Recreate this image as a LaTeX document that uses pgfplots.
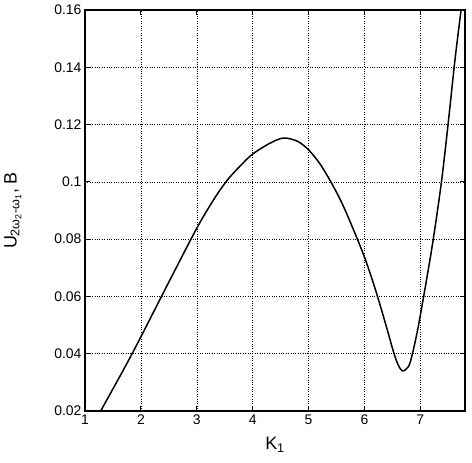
\documentclass[border=0pt]{standalone}
\usepackage{fontspec}
\setmainfont{Liberation Sans}
\usepackage{pgfplots}
\pgfplotsset{compat=1.18}

\begin{document}
\begin{tikzpicture}
  % fix the page to the reference's 472x463 frame around the axis box
  \path[use as bounding box] (-85bp,-52bp) rectangle (387bp,411bp);
  \begin{axis}[
    scale only axis,
    width=380bp, height=401bp,
    xmin=1, xmax=7.8,
    ymin=0.02, ymax=0.16,
    xtick={1,2,...,7},
    ytick={0.02,0.04,...,0.16},
    scaled y ticks=false,
    yticklabel style={/pgf/number format/fixed, /pgf/number format/precision=2},
    /pgf/number format/assume math mode=true,
    tick label style={font=\fontsize{14}{16}\selectfont},
    tick align=inside,
    major tick length=5bp,
    tick style={black, line width=0.9bp},
    axis line style={line width=1.4bp},
    grid=major,
    major grid style={dotted, black, line width=0.5bp},
    xlabel={K\textsubscript{1}},
    ylabel={U\textsubscript{2ω\textsubscript{2}-ω\textsubscript{1}}, B},
    label style={font=\fontsize{18}{20}\selectfont},
    xlabel style={at={(axis description cs:0.5,-0.085)}, anchor=center},
    ylabel style={at={(axis description cs:-0.19,0.5)}, anchor=center},
  ]
    \addplot[black, line width=1.5bp, smooth, tension=0.5] coordinates {
      (1.28,0.0200)
      (1.70,0.0348)
      (2.00,0.0459)
      (2.50,0.0650)
      (3.00,0.0838)
      (3.30,0.0937)
      (3.55,0.1007)
      (3.80,0.1060)
      (4.00,0.1097)
      (4.30,0.1134)
      (4.55,0.1153)
      (4.80,0.1142)
      (5.00,0.1112)
      (5.20,0.1064)
      (5.40,0.1000)
      (5.60,0.0925)
      (5.80,0.0835)
      (6.00,0.0738)
      (6.20,0.0622)
      (6.40,0.0490)
      (6.50,0.0420)
      (6.58,0.0372)
      (6.64,0.0348)
      (6.69,0.0340)
      (6.75,0.0347)
      (6.82,0.0370)
      (6.94,0.0471)
      (7.08,0.0622)
      (7.23,0.0797)
      (7.38,0.1002)
      (7.50,0.1206)
      (7.62,0.1425)
      (7.73,0.1600)
    };
  \end{axis}
\end{tikzpicture}
\end{document}
